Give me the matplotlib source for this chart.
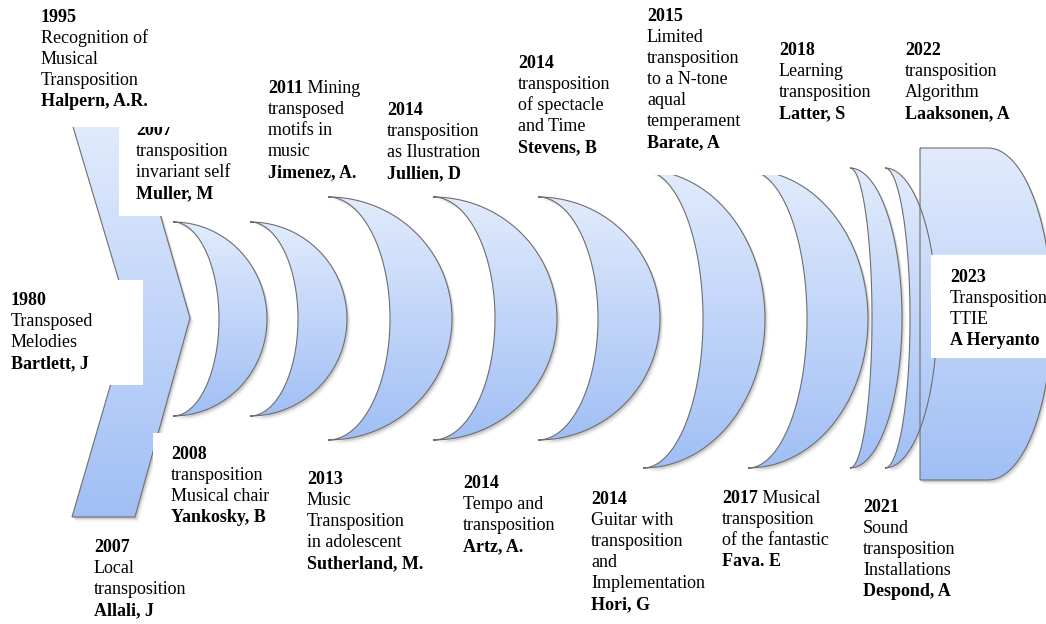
import numpy as np
import matplotlib.pyplot as plt
from matplotlib.path import Path
from matplotlib.patches import PathPatch, Rectangle
from matplotlib.transforms import Affine2D
from matplotlib.colors import LinearSegmentedColormap

plt.rcParams['font.family'] = ['Liberation Serif', 'DejaVu Serif']

# timeline entries
years = ["1980", "1995", "2007", "2007", "2008", "2011", "2013", "2014", "2014",
         "2014", "2014", "2015", "2017", "2018", "2021", "2022", "2023"]
titles = [
    ["Transposed", "Melodies"],
    ["Recognition of", "Musical", "Transposition"],
    ["Local", "transposition"],
    ["transposition", "invariant self"],
    ["transposition", "Musical chair"],
    ["Mining", "transposed", "motifs in", "music"],
    ["Music", "Transposition", "in adolescent"],
    ["transposition", "as Ilustration"],
    ["Tempo and", "transposition"],
    ["transposition", "of spectacle", "and Time"],
    ["Guitar with", "transposition", "and", "Implementation"],
    ["Limited", "transposition", "to a N-tone", "aqual", "temperament"],
    ["Musical", "transposition", "of the fantastic"],
    ["Learning", "transposition"],
    ["Sound", "transposition", "Installations"],
    ["transposition", "Algorithm"],
    ["Transposition", "TTIE"],
]
authors = ["Bartlett, J", "Halpern, A.R.", "Allali, J", "Muller, M", "Yankosky, B",
           "Jimenez, A.", "Sutherland, M.", "Jullien, D", "Artz, A.", "Stevens, B",
           "Hori, G", "Barate, A", "Fava. E", "Latter, S", "Despond, A",
           "Laaksonen, A", "A Heryanto"]

# label layout (left x, first baseline y, first title word on the year line)
label_x = [11, 41, 94, 136, 171, 268, 307, 387, 463, 518, 591, 647, 722, 779, 863, 905, 950]
label_y = [305, 22, 552, 135, 459, 93, 484, 115, 488, 68, 504, 21, 503, 55, 512, 55, 282]
inline_first = [False] * 17
inline_first[5] = True
inline_first[12] = True
PITCH = 21

# crescent layout: tip x, top y, bottom y, inner bulge x, outer bulge x
crescents = [
    (173, 222, 416, 219, 267),
    (250, 222, 416, 298, 347),
    (328, 197, 440, 390, 452),
    (433, 197, 440, 495, 557),
    (538, 197, 440, 598, 660),
    (643, 170, 468, 703, 765),
    (748, 170, 468, 807, 868),
    (850, 168, 468, 872, 902),
    (885, 168, 468, 910, 937),
]

# white label backgrounds (x, y, w, h)
boxes = [(119, 127, 115, 89), (0, 280, 143, 105), (153, 433, 130, 100),
         (931, 255, 120, 103), (630, 0, 155, 175)]

W, H = 1046, 624
fig = plt.figure(figsize=(W / 100, H / 100), dpi=100)
ax = fig.add_axes([0, 0, 1, 1])

cmap = LinearSegmentedColormap.from_list("fill", ["#e1ebfc", "#a1bff5"])
grad = np.linspace(0, 1, 256).reshape(-1, 1)


def draw_shape(verts, z):
    verts = np.asarray(verts, dtype=float)
    path = Path(np.vstack([verts, verts[:1]]), closed=True)
    for off, a in [((3.5, 4.5), 0.06), ((2.5, 3.0), 0.10), ((1.5, 2.0), 0.16)]:
        sh = PathPatch(path.transformed(Affine2D().translate(*off)),
                       fc="#505050", ec="none", alpha=a, zorder=0.5)
        ax.add_patch(sh)
    patch = PathPatch(path, fc="none", ec="#6e6e6e", lw=0.8, zorder=z + 0.1)
    ax.add_patch(patch)
    x0, y0 = verts.min(0)
    x1, y1 = verts.max(0)
    im = ax.imshow(grad, cmap=cmap, extent=(x0, x1, y1, y0), origin="upper",
                   aspect="auto", zorder=z, interpolation="bilinear")
    im.set_clip_path(patch)


# chevron
draw_shape([(71, 120), (133, 120), (190, 318), (135, 517), (72, 517), (130, 318)], 1)

# crescents
t = np.linspace(-np.pi / 2, np.pi / 2, 80)
for x0, yt, yb, xi, xo in crescents:
    ym, h = (yt + yb) / 2, (yb - yt) / 2
    outer = np.column_stack([x0 + (xo - x0) * np.cos(t), ym + h * np.sin(t)])
    inner = np.column_stack([x0 + (xi - x0) * np.cos(t), ym + h * np.sin(t)])[::-1]
    draw_shape(np.vstack([outer, inner[1:-1]]), 1)

# final D shape
right = np.column_stack([988 + 64 * np.cos(t), 314 + 166 * np.sin(t)])
draw_shape(np.vstack([[(920, 148)], right, [(920, 480)]]), 1)

for bx, by, bw, bh in boxes:
    ax.add_patch(Rectangle((bx, by), bw, bh, fc="white", ec="none", zorder=3))


def put(x, y, s, bold=False, z=4):
    return ax.text(x, y, s, fontsize=13, fontweight="bold" if bold else "normal",
                   va="baseline", ha="left", color="black", zorder=z)


for i in range(len(years)):
    z = 6 if i == 1 else 4
    x, y = label_x[i], label_y[i]
    lines = list(titles[i])
    yt = put(x, y, years[i], bold=True, z=z)
    if inline_first[i]:
        ax.annotate(" " + lines.pop(0), xy=(1, 0), xycoords=yt, va="bottom",
                    ha="left", fontsize=13, color="black", zorder=z)
    for k, ln in enumerate(lines):
        put(x, y + PITCH * (k + 1), ln, z=z)
    put(x, y + PITCH * (len(lines) + 1), authors[i], bold=True, z=z)

# the 1995 label background sits over the 2007 label
ax.add_patch(Rectangle((0, 0), 200, 127, fc="white", ec="none", zorder=5))

ax.set_xlim(0, W)
ax.set_ylim(H, 0)
ax.axis("off")
fig.savefig("out.png", dpi=100)
